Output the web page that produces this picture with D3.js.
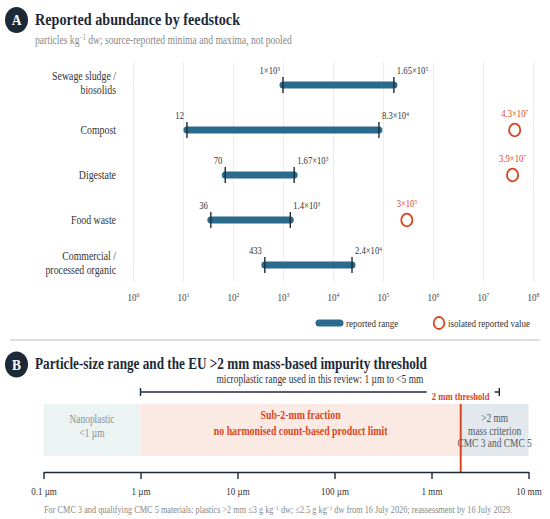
<!DOCTYPE html>
<html>
<head>
<meta charset="utf-8">
<script src="https://cdn.jsdelivr.net/npm/d3@7"></script>
<style>
  html, body { margin: 0; padding: 0; background: #fff; }
  svg { display: block; font-family: "Liberation Serif", "Times New Roman", serif; }
  svg text { font-family: "Liberation Serif", "Times New Roman", serif; }
</style>
</head>
<body>
<svg id="chart" width="550" height="519"></svg>
<script>
// ---------- Panel A data ----------
const categories = ["Sewage sludge /|biosolids", "Compost", "Digestate", "Food waste", "Commercial /|processed organic"];
const rangeMin = [1e3, 12, 70, 36, 433];
const rangeMax = [1.65e5, 8.3e4, 1.67e3, 1.4e3, 2.4e4];
const minLabels = ["1×10^{3}", "12", "70", "36", "433"];
const maxLabels = ["1.65×10^{5}", "8.3×10^{4}", "1.67×10^{3}", "1.4×10^{3}", "2.4×10^{4}"];
const isolatedValues = [null, 4.3e7, 3.9e7, 3e5, null];
const isolatedLabels = [null, "4.3×10^{7}", "3.9×10^{7}", "3×10^{5}", null];
const abundanceTicks = [1e0, 1e1, 1e2, 1e3, 1e4, 1e5, 1e6, 1e7, 1e8];
const abundanceTickLabels = ["10^{0}", "10^{1}", "10^{2}", "10^{3}", "10^{4}", "10^{5}", "10^{6}", "10^{7}", "10^{8}"];

// ---------- Panel B data (sizes in µm) ----------
const sizeTicks = [0.1, 1, 10, 100, 1000, 10000];
const sizeTickLabels = ["0.1 µm", "1 µm", "10 µm", "100 µm", "1 mm", "10 mm"];
const bandFrom = [0.1, 1, 2000];
const bandTo = [1, 2000, 10000];
const bandLines = [["Nanoplastic", "<1 µm"], ["Sub-2-mm fraction", "no harmonised count-based product limit"], [">2 mm", "mass criterion", "CMC 3 and CMC 5"]];
const thresholdSize = 2000;
const microRange = [1, 5000];

// ---------- styles ----------
const SX = 0.82;
const C = { navy: "#1c2a38", bar: "#2a6a8c", orange: "#d9461e", text: "#333", grey: "#888", grid: "#ececec" };
const bandFill = ["#ebf3f3", "#fbeae3", "#e3e8ec"];
const bandText = ["#8a9096", C.orange, "#505b66"];
const bandWeight = ["normal", "bold", "normal"];

const svg = d3.select("#chart");

function rich(sel, str) {
  const parts = str.split(/(\^\{[^}]*\})/).filter(s => s.length);
  let up = false;
  parts.forEach(p => {
    if (p.startsWith("^{")) {
      sel.append("tspan").attr("font-size", "0.62em").attr("dy", "-0.5em").text(p.slice(2, -1));
      up = true;
    } else {
      const t = sel.append("tspan").text(p);
      if (up) { t.attr("dy", "0.31em"); up = false; }
    }
  });
  return sel;
}
function txt(g, x, y, str, o = {}) {
  const t = g.append("text")
    .attr("transform", `translate(${x},${y}) scale(${o.sx || SX},1)`)
    .attr("text-anchor", o.anchor || "start")
    .attr("font-size", o.size || 11)
    .attr("font-weight", o.weight || "normal")
    .attr("fill", o.fill || C.text);
  rich(t, str);
  return t;
}
function badge(cx, cy, letter) {
  svg.append("ellipse").attr("cx", cx).attr("cy", cy).attr("rx", 11.5).attr("ry", 13).attr("fill", C.navy);
  txt(svg, cx, cy + 5, letter, { anchor: "middle", size: 15, weight: "bold", fill: "#fff", sx: 0.9 });
}

// ================= Panel A =================
badge(16.5, 20, "A");
txt(svg, 35, 25, "Reported abundance by feedstock", { size: 17.3, weight: "bold", fill: C.navy });
txt(svg, 35, 44, "particles kg^{−1} dw; source-reported minima and maxima, not pooled", { size: 11.7, fill: C.grey });

const x = d3.scaleLog().domain([1, 1e8]).range([133, 533]);
const y = d3.scalePoint().domain(categories).range([85, 265]);

const gA = svg.append("g");
const axA = gA.append("g").attr("transform", "translate(0,282)")
  .call(d3.axisBottom(x).tickValues(abundanceTicks).tickSize(-220).tickPadding(11).tickFormat((d, i) => ""));
axA.attr("font-family", null);
axA.select(".domain").remove();
axA.selectAll(".tick line").attr("stroke", C.grid);
axA.selectAll(".tick text").each(function (d, i) {
  const t = d3.select(this);
  t.attr("font-size", 11).attr("fill", "#444").attr("transform", `scale(${SX},1)`);
  rich(t, abundanceTickLabels[i]);
});

categories.forEach((c, i) => {
  const cy = y(c);
  const lines = c.split("|");
  if (lines.length === 1) {
    txt(gA, 116, cy + 4, lines[0], { anchor: "end", size: 12 });
  } else {
    txt(gA, 116, cy - 5, lines[0], { anchor: "end", size: 12 });
    txt(gA, 116, cy + 8.5, lines[1], { anchor: "end", size: 12 });
  }
  const x0 = x(rangeMin[i]), x1 = x(rangeMax[i]);
  gA.append("line").attr("x1", x0).attr("x2", x1).attr("y1", cy).attr("y2", cy)
    .attr("stroke", C.bar).attr("stroke-width", 7).attr("stroke-linecap", "round");
  [x0, x1].forEach(xx => gA.append("line").attr("x1", xx).attr("x2", xx).attr("y1", cy - 8).attr("y2", cy + 8)
    .attr("stroke", C.navy).attr("stroke-width", 1.4));
  txt(gA, x0 - 3, cy - 11, minLabels[i], { anchor: "end", size: 10.5 });
  txt(gA, x1 + 3, cy - 11, maxLabels[i], { anchor: "start", size: 10.5 });
  if (isolatedValues[i] != null) {
    const xi = x(isolatedValues[i]);
    gA.append("ellipse").attr("cx", xi).attr("cy", cy).attr("rx", 5.6).attr("ry", 6.3)
      .attr("fill", "#fff").attr("stroke", C.orange).attr("stroke-width", 1.8);
    txt(gA, xi, cy - 13, isolatedLabels[i], { anchor: "middle", size: 10.5, fill: C.orange });
  }
});

// legend
gA.append("line").attr("x1", 319).attr("x2", 340).attr("y1", 323).attr("y2", 323)
  .attr("stroke", C.bar).attr("stroke-width", 7).attr("stroke-linecap", "round");
txt(gA, 346, 327, "reported range", { size: 11 });
gA.append("ellipse").attr("cx", 439).attr("cy", 323).attr("rx", 5.3).attr("ry", 6)
  .attr("fill", "#fff").attr("stroke", C.orange).attr("stroke-width", 1.8);
txt(gA, 448, 327, "isolated reported value", { size: 11 });

// divider
svg.append("line").attr("x1", 10).attr("x2", 540).attr("y1", 340).attr("y2", 340)
  .attr("stroke", "#b9c4cc").attr("stroke-width", 1.2);

// ================= Panel B =================
badge(16.5, 364.5, "B");
txt(svg, 35, 369, "Particle-size range and the EU >2 mm mass-based impurity threshold", { size: 16.1, weight: "bold", fill: C.navy });

const xs = d3.scaleLog().domain([0.1, 10000]).range([43.5, 528.5]);
const gB = svg.append("g");

// subtitle + bracket
txt(gB, (xs(microRange[0]) + xs(microRange[1])) / 2, 383, "microplastic range used in this review: 1 µm to <5 mm", { anchor: "middle", size: 11.5 });
gB.append("line").attr("x1", xs(microRange[0])).attr("x2", xs(microRange[1])).attr("y1", 392).attr("y2", 392)
  .attr("stroke", C.navy).attr("stroke-width", 1.4);
microRange.forEach(v => gB.append("line").attr("x1", xs(v)).attr("x2", xs(v)).attr("y1", 388).attr("y2", 396)
  .attr("stroke", C.navy).attr("stroke-width", 1.4));

// bands
bandFrom.forEach((f, i) => {
  const bx0 = xs(f), bx1 = xs(bandTo[i]);
  gB.append("rect").attr("x", bx0).attr("y", 404).attr("width", bx1 - bx0).attr("height", 52).attr("fill", bandFill[i]);
});
bandFrom.forEach((f, i) => {
  const cx = (xs(f) + xs(bandTo[i])) / 2;
  const lines = bandLines[i];
  const starts = [423, 419, 422];
  const step = [14, 16, 12.5];
  lines.forEach((l, j) => txt(gB, cx, starts[i] + j * step[i], l,
    { anchor: "middle", size: i === 1 ? 12 : 11.5, weight: bandWeight[i], fill: bandText[i] }));
});

// threshold
const xt = xs(thresholdSize);
gB.append("rect").attr("x", xt - 34).attr("y", 385).attr("width", 68).attr("height", 18).attr("fill", "#fff");
txt(gB, xt, 400, "2 mm threshold", { anchor: "middle", size: 10.5, weight: "bold", fill: C.orange });
gB.append("line").attr("x1", xt).attr("x2", xt).attr("y1", 404).attr("y2", 472)
  .attr("stroke", C.orange).attr("stroke-width", 2);

// axis
const axB = gB.append("g").attr("transform", "translate(0,472)")
  .call(d3.axisBottom(xs).tickValues(sizeTicks).tickSize(7).tickSizeOuter(0).tickPadding(8).tickFormat((d, i) => sizeTickLabels[i]));
axB.attr("font-family", null);
axB.select(".domain").attr("stroke", C.navy).attr("stroke-width", 1.4);
axB.selectAll(".tick line").attr("stroke", C.navy).attr("stroke-width", 1.4);
axB.selectAll(".tick text").attr("font-size", 11).attr("fill", "#333")
  .attr("transform", `scale(${SX},1)`);

// footnote
txt(svg, 44, 513, "For CMC 3 and qualifying CMC 5 materials: plastics >2 mm ≤3 g kg^{−1} dw; ≤2.5 g kg^{−1} dw from 16 July 2026; reassessment by 16 July 2029.", { size: 10.1, fill: C.grey });
</script>
</body>
</html>
